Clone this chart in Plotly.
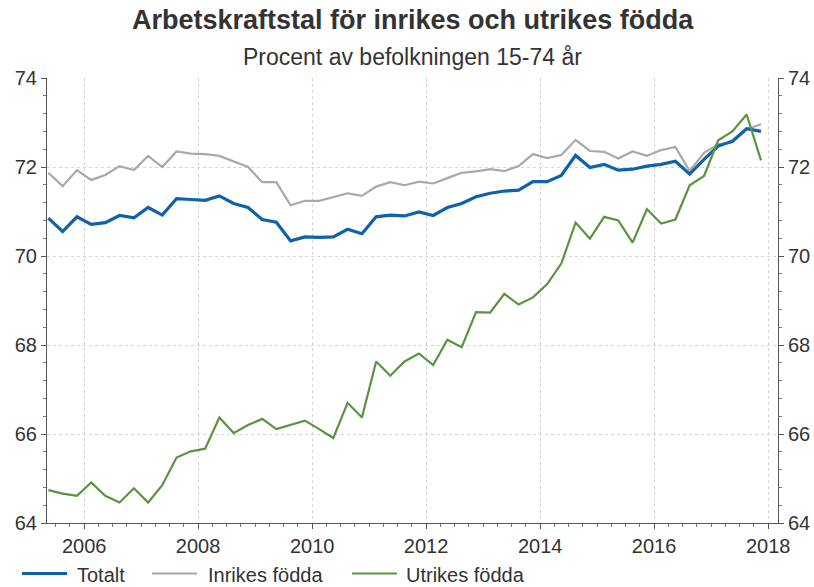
import pandas as pd
import plotly.graph_objects as go

# Quarterly data 2005Q2 - 2017Q4
quarters = [str(p) for p in pd.period_range("2005Q2", "2017Q4", freq="Q")]

totalt = [70.85, 70.55, 70.88, 70.71, 70.75, 70.91, 70.86, 71.09, 70.92, 71.29,
          71.27, 71.25, 71.35, 71.18, 71.09, 70.82, 70.76, 70.34, 70.43, 70.42,
          70.43, 70.60, 70.50, 70.88, 70.92, 70.90, 70.99, 70.91, 71.09, 71.18,
          71.33, 71.41, 71.46, 71.48, 71.67, 71.67, 71.81, 72.26, 71.99, 72.06,
          71.93, 71.95, 72.02, 72.06, 72.13, 71.84, 72.17, 72.47, 72.58, 72.86,
          72.80]

inrikes = [71.87, 71.57, 71.93, 71.71, 71.82, 72.02, 71.93, 72.25, 72.00, 72.35,
           72.30, 72.29, 72.25, 72.13, 72.00, 71.66, 71.66, 71.14, 71.24, 71.24,
           71.33, 71.41, 71.35, 71.56, 71.66, 71.59, 71.67, 71.63, 71.75, 71.87,
           71.90, 71.95, 71.91, 72.02, 72.29, 72.20, 72.27, 72.61, 72.36, 72.34,
           72.19, 72.35, 72.25, 72.38, 72.45, 71.91, 72.32, 72.51, 72.55, 72.85,
           72.96]

utrikes = [64.74, 64.66, 64.61, 64.91, 64.61, 64.46, 64.78, 64.46, 64.85, 65.47,
           65.61, 65.67, 66.37, 66.02, 66.20, 66.34, 66.11, 66.21, 66.30, 66.11,
           65.91, 66.70, 66.37, 67.63, 67.31, 67.63, 67.81, 67.55, 68.12, 67.95,
           68.74, 68.73, 69.15, 68.91, 69.07, 69.37, 69.83, 70.75, 70.39, 70.88,
           70.80, 70.30, 71.05, 70.73, 70.82, 71.59, 71.80, 72.60, 72.80, 73.18,
           72.15]

series_names = ["Totalt", "Inrikes födda", "Utrikes födda"]
y_ticks = [64, 66, 68, 70, 72, 74]

# mid-quarter dates
periods = pd.PeriodIndex(quarters, freq="Q")
x = [p.start_time + (p.end_time - p.start_time) / 2 for p in periods]

BLUE = "#0e61aa"
GRAY = "#a8a8a8"
GREEN = "#5a9441"
TXT = "#333333"
FONT = "Liberation Sans, Arial, sans-serif"

W, H = 814, 587
ML, MR, MT, MB = 47, 36, 78, 64
PW, PH = W - ML - MR, H - MT - MB


def px_x(p):
    return (p - ML) / PW


def px_y(p):
    return (H - MB - p) / PH


fig = go.Figure()
fig.add_trace(go.Scatter(x=x, y=inrikes, name=series_names[1], mode="lines",
                         line=dict(color=GRAY, width=2.2)))
fig.add_trace(go.Scatter(x=x, y=totalt, name=series_names[0], mode="lines",
                         line=dict(color=BLUE, width=3.2)))
fig.add_trace(go.Scatter(x=x, y=utrikes, name=series_names[2], mode="lines",
                         line=dict(color=GREEN, width=2.2)))
# invisible trace to activate right axis
fig.add_trace(go.Scatter(x=x, y=totalt, yaxis="y2", mode="lines",
                         line=dict(width=0), opacity=0, showlegend=False,
                         hoverinfo="skip"))

yax = dict(range=[64, 74], tickvals=y_ticks, showline=True, linecolor="#555555",
           linewidth=1, ticks="outside", ticklen=5, tickcolor="#555555",
           tickfont=dict(size=20, color=TXT, family=FONT),
           showgrid=True, gridcolor="#d4d4d4", griddash="dot", gridwidth=1,
           minor=dict(dtick=0.4, ticks="outside", ticklen=3, tickcolor="#777777",
                      showgrid=False),
           zeroline=False, fixedrange=True)

# custom legend (keys 45 px long, as in the original)
legend_items = [(series_names[0], BLUE, 3.2, 22, 76),
                (series_names[1], GRAY, 2.2, 152, 207),
                (series_names[2], GREEN, 2.2, 352, 405)]
shapes = []
annotations = [
    dict(text="<b>Arbetskraftstal för inrikes och utrikes födda</b>",
         x=0.5, xref="paper", y=px_y(20), yref="paper", xanchor="center",
         yanchor="middle", showarrow=False,
         font=dict(size=27, color=TXT, family=FONT)),
    dict(text="Procent av befolkningen 15-74 år",
         x=0.5, xref="paper", y=px_y(57), yref="paper", xanchor="center",
         yanchor="middle", showarrow=False,
         font=dict(size=23, color=TXT, family=FONT)),
]
for name, col, lw, x0, tx in legend_items:
    shapes.append(dict(type="line", xref="paper", yref="paper",
                       x0=px_x(x0), x1=px_x(x0 + 45), y0=px_y(573.5), y1=px_y(573.5),
                       line=dict(color=col, width=lw)))
    annotations.append(dict(text=name, x=px_x(tx), xref="paper", y=px_y(575),
                            yref="paper", xanchor="left", yanchor="middle",
                            showarrow=False, borderpad=0,
                            font=dict(size=20, color=TXT, family=FONT)))

fig.update_layout(
    width=W, height=H,
    margin=dict(l=ML, r=MR, t=MT, b=MB, autoexpand=False),
    paper_bgcolor="white", plot_bgcolor="white",
    font=dict(family=FONT, color=TXT),
    showlegend=False,
    xaxis=dict(range=["2005-05-08", "2018-03-05"], type="date",
               tick0="2006-01-01", dtick="M24", tickformat="%Y",
               ticks="outside", ticklen=5, tickcolor="#555555",
               showline=True, linecolor="#555555", linewidth=1,
               tickfont=dict(size=20, color=TXT, family=FONT),
               showgrid=True, gridcolor="#d4d4d4", griddash="dot", gridwidth=1,
               minor=dict(dtick="M3", ticks="outside", ticklen=3, tickcolor="#777777",
                          showgrid=False),
               zeroline=False),
    yaxis=yax,
    yaxis2=dict(yax, overlaying="y", side="right", showgrid=False),
    shapes=shapes,
    annotations=annotations,
)

fig.write_html("out.html", config={"displayModeBar": False},
               post_script="document.body.style.margin='0';"
                           "document.body.style.overflow='hidden';")
